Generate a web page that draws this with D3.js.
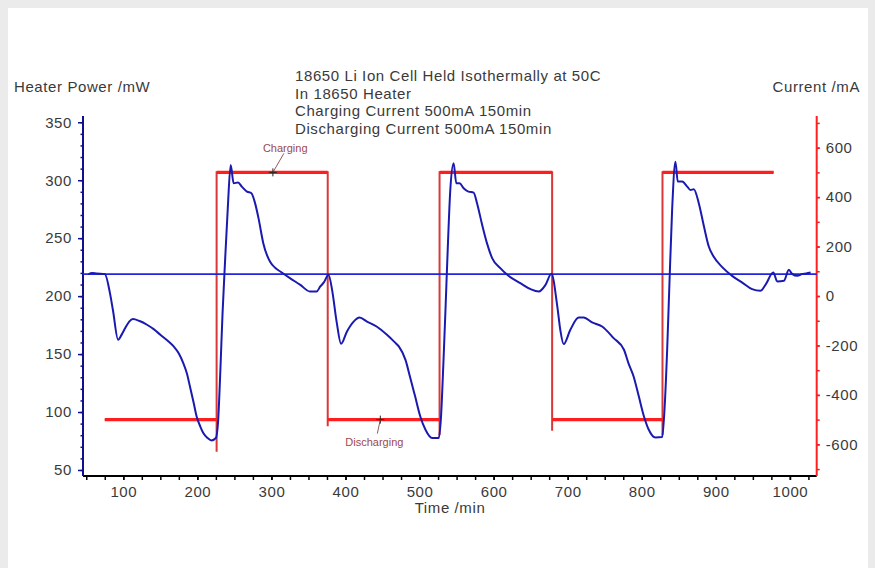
<!DOCTYPE html>
<html>
<head>
<meta charset="utf-8">
<script src="https://cdn.jsdelivr.net/npm/d3@7/dist/d3.min.js"></script>
<style>
  body { margin: 0; background: #ebebeb; }
  text { font-family: "Liberation Sans", Arial, sans-serif; }
</style>
</head>
<body>
<div id="svgDiv"></div>
<script>
var width = 875,
    height = 568;

// heater power trace (time /min, power /mW)
var powerTime = [53, 58, 64, 75, 82, 86, 93, 98, 103, 108, 113, 122, 132, 141, 150, 160, 168, 175, 181, 186,
  190, 195, 199, 204, 208, 214, 219, 225, 228, 231, 234, 237, 241, 245, 249, 255, 260, 267, 273, 278,
  283, 289, 298, 305, 312, 325, 339, 352, 361, 366, 371, 377, 382, 388, 394, 402, 411, 419, 429, 442,
  456, 466, 472, 481, 487, 494, 501, 508, 517, 526, 529, 532, 535, 538, 541.5, 546, 549.6, 554, 559.5, 566,
  573, 577.6, 584, 591, 598, 609, 620, 636, 650, 661, 670, 678, 686, 690, 694.6, 703.6, 715, 721.6, 733, 746.5,
  762, 776, 782, 789, 796, 803, 809.5, 818.5, 827.6, 830.7, 834.3, 837.4, 841, 845.5, 848.6, 854.5, 861.4, 865.8, 870.3, 877,
  884, 890.5, 897, 908.6, 922, 935.7, 949, 960.4, 967, 977.6, 983, 992, 998.6, 1003, 1010, 1017, 1022, 1028];
var powerMW = [219, 220, 219.5, 219, 202.6, 188, 162.3, 167, 173, 178, 180.2, 178.5, 175.3, 171.5, 166.7, 161.5, 156.6, 150.5, 142.2, 133,
  122, 108, 96.2, 87.5, 81.9, 77.5, 75.5, 77.6, 92, 135, 185, 225, 275, 313.2, 297.4, 298, 294.5, 290.2, 288.8, 280,
  265.8, 245.7, 229.8, 224.5, 221.2, 215.5, 209.7, 204, 204, 208.3, 212, 218.4, 205, 178, 158.9, 169.5, 178, 181.5, 178, 173.8,
  166.6, 160.5, 156.6, 145, 130.7, 113.5, 96.2, 84.7, 77.6, 77.6, 96.2, 139.3, 188.2, 239.9, 291.6, 314.7, 297.4, 297.4, 293.1, 290.2,
  289.3, 280.2, 262.9, 245.7, 232.8, 224.1, 217.5, 211.2, 206, 204, 209.7, 219.2, 191, 171, 158.6, 171, 181.5, 181.5, 177.3, 173.8,
  163.8, 153.7, 142.2, 130.7, 113.5, 96.2, 84.7, 78, 78.4, 102, 153.7, 211.2, 274.4, 316, 298.8, 298.8, 294.5, 291.6, 292.2, 280.2,
  260, 242.8, 234.1, 225, 217.5, 211.7, 206, 204.6, 209.7, 220.3, 212.6, 213.2, 222.7, 219.2, 217.5, 219.2, 219.5, 220.3];

// applied current (time /min, current /mA)
var currentTime = [75, 226, 226, 226, 376, 376, 376, 527, 527, 527, 679, 679, 679, 828, 828, 828, 978];
var currentMA = [-500, -500, -630, 500, 500, -527, -500, -500, -562, 500, 500, -545, -500, -500, -562, 500, 500];

var baselinePower = 219;

var titleLines = ["18650 Li Ion Cell Held Isothermally at 50C", "In 18650 Heater",
  "Charging Current 500mA 150min", "Discharging Current 500mA 150min"];

var xTicks = [100, 200, 300, 400, 500, 600, 700, 800, 900, 1000];
var powerTicks = [50, 100, 150, 200, 250, 300, 350];
var currentTicks = [-600, -400, -200, 0, 200, 400, 600];

var notes = [{label: "Charging", t: 302, mA: 500, dx: 11, dy: -19, tx: -10, ty: -20},
  {label: "Discharging", t: 447, mA: -500, dx: -3, dy: 14, tx: -35, ty: 26}];

var x = d3.scaleLinear().domain([45.6, 1036.2]).range([83, 816.7]);
var yP = d3.scaleLinear().domain([44.8, 355.4]).range([476, 116]);
var yI = d3.scaleLinear().domain([-728, 728]).range([476, 116]);

var svg = d3.select("#svgDiv").append("svg")
  .attr("width", width)
  .attr("height", height);

svg.append("rect").attr("width", width).attr("height", height).attr("fill", "#ebebeb");
svg.append("rect").attr("x", 8).attr("y", 8).attr("width", 860).attr("height", 560).attr("fill", "#fff");

var txt = "#3a3a3a";
var plain = function(d) { return String(d); };   // keeps "-200" with a plain hyphen, "1000" without comma

// title block
svg.append("g").selectAll("text")
  .data(titleLines).enter()
  .append("text")
  .attr("x", 295)
  .attr("y", function(d, i) { return 81 + i * 17.6; })
  .attr("font-size", 15)
  .attr("letter-spacing", 0.6)
  .attr("fill", txt)
  .text(function(d) { return d; });

svg.append("text").attr("x", 14).attr("y", 92).attr("font-size", 15).attr("letter-spacing", 0.6)
  .attr("fill", txt).text("Heater Power /mW");
svg.append("text").attr("x", 860).attr("y", 92).attr("font-size", 15).attr("letter-spacing", 0.6)
  .attr("text-anchor", "end").attr("fill", txt).text("Current /mA");
svg.append("text").attr("x", 450).attr("y", 513).attr("font-size", 15).attr("letter-spacing", 0.6)
  .attr("text-anchor", "middle").attr("fill", txt).text("Time /min");

// axes
function minorRange(a, b, step) {
  return d3.range(a, b + step / 2, step);
}

var gx = svg.append("g").attr("transform", "translate(0,476)");
gx.call(d3.axisBottom(x).tickValues(minorRange(50, 1025, 25)).tickFormat("").tickSize(4));
gx.append("g").call(d3.axisBottom(x).tickValues(xTicks).tickFormat(plain).tickSize(4).tickPadding(6));
gx.selectAll("path").remove();
gx.selectAll("line").attr("stroke", "#000").attr("stroke-width", 1.5);
gx.selectAll("text").attr("font-size", 15).attr("letter-spacing", 0.6).attr("fill", txt)
  .attr("font-family", "Liberation Sans, Arial, sans-serif");
svg.append("line").attr("x1", x.range()[0]).attr("x2", x.range()[1]).attr("y1", 476).attr("y2", 476)
  .attr("stroke", "#000").attr("stroke-width", 2);

var gl = svg.append("g").attr("transform", "translate(83,0)");
gl.call(d3.axisLeft(yP).tickValues(minorRange(50, 350, 10)).tickFormat("").tickSize(2.5));
gl.append("g").call(d3.axisLeft(yP).tickValues(powerTicks).tickFormat(plain).tickSize(5).tickPadding(6));
gl.selectAll("path").remove();
gl.selectAll("line").attr("stroke", "#10108a").attr("stroke-width", 1.5);
gl.selectAll("text").attr("font-size", 15).attr("letter-spacing", 0.6).attr("fill", txt)
  .attr("font-family", "Liberation Sans, Arial, sans-serif");
svg.append("line").attr("x1", 83).attr("x2", 83).attr("y1", 116).attr("y2", 476)
  .attr("stroke", "#10108a").attr("stroke-width", 2);

var gr = svg.append("g").attr("transform", "translate(816.7,0)");
gr.call(d3.axisRight(yI).tickValues(minorRange(-700, 700, 100)).tickFormat("").tickSize(3));
gr.append("g").call(d3.axisRight(yI).tickValues(currentTicks).tickFormat(plain).tickSize(3).tickPadding(6));
gr.selectAll("path").remove();
gr.selectAll("line").attr("stroke", "#e82020").attr("stroke-width", 1.5);
gr.selectAll("text").attr("font-size", 15).attr("letter-spacing", 0.6).attr("fill", txt)
  .attr("font-family", "Liberation Sans, Arial, sans-serif");
svg.append("line").attr("x1", 816.7).attr("x2", 816.7).attr("y1", 116).attr("y2", 476)
  .attr("stroke", "#ff2020").attr("stroke-width", 2);

// current trace
var currentData = currentTime.map(function(t, i) { return [t, currentMA[i]]; });
var currentLine = d3.line()
  .x(function(d) { return x(d[0]); })
  .y(function(d) { return yI(d[1]); });

svg.append("path")
  .datum(currentData)
  .attr("fill", "none")
  .attr("stroke", "#d83838")
  .attr("stroke-width", 2)
  .attr("d", currentLine);

var flats = [];
for (var i = 1; i < currentData.length; i++) {
  if (currentData[i][1] == currentData[i - 1][1]) flats.push([currentData[i - 1], currentData[i]]);
}
svg.append("g").selectAll("path")
  .data(flats).enter()
  .append("path")
  .attr("fill", "none")
  .attr("stroke", "#ff1e1e")
  .attr("stroke-width", 3.2)
  .attr("d", currentLine);

// baseline power
svg.append("line")
  .attr("x1", 83).attr("x2", 816.7)
  .attr("y1", yP(baselinePower)).attr("y2", yP(baselinePower))
  .attr("stroke", "#2424e0")
  .attr("stroke-width", 1.6);

// heater power trace
var powerData = powerTime.map(function(t, i) { return [t, powerMW[i]]; });
svg.append("path")
  .datum(powerData)
  .attr("fill", "none")
  .attr("stroke", "#1a1ab0")
  .attr("stroke-width", 2)
  .attr("stroke-linejoin", "round")
  .attr("d", d3.line()
    .curve(d3.curveMonotoneX)
    .x(function(d) { return x(d[0]); })
    .y(function(d) { return yP(d[1]); }));

// annotations
var ng = svg.append("g").selectAll("g")
  .data(notes).enter()
  .append("g")
  .attr("transform", function(d) { return "translate(" + x(d.t) + "," + yI(d.mA) + ")"; });
ng.append("path")
  .attr("d", "M-4,0H4M0,-4V4")
  .attr("stroke", "#222").attr("stroke-width", 1);
ng.append("line")
  .attr("x1", 0).attr("y1", 0)
  .attr("x2", function(d) { return d.dx; }).attr("y2", function(d) { return d.dy; })
  .attr("stroke", "#7a3030").attr("stroke-width", 0.8);
ng.append("text")
  .attr("x", function(d) { return d.tx; })
  .attr("y", function(d) { return d.ty; })
  .attr("font-size", 11)
  .attr("fill", "#a04848")
  .text(function(d) { return d.label; });
</script>
</body>
</html>
